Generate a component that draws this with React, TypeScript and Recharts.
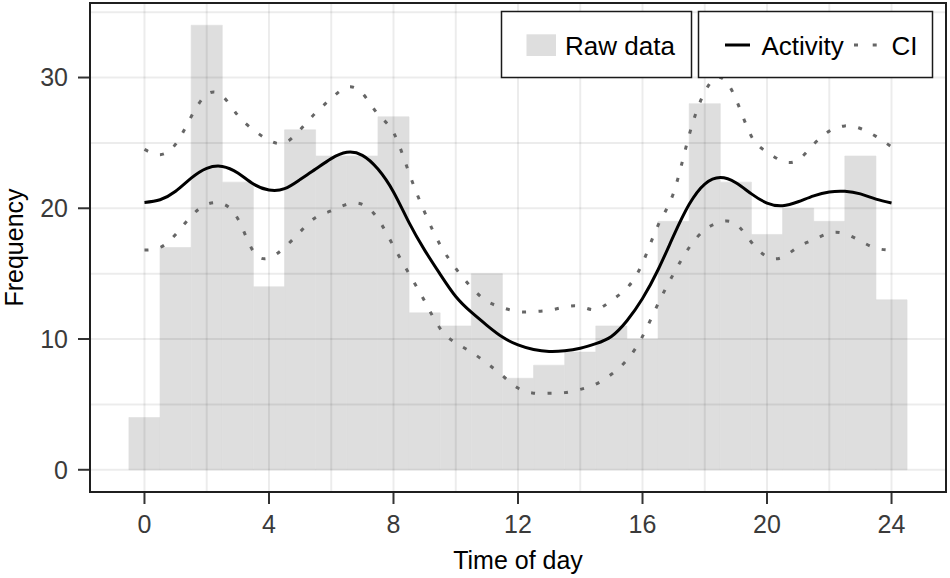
import React from "react";
import {
  ComposedChart,
  Bar,
  Line,
  XAxis,
  YAxis,
  ReferenceLine,
  ReferenceArea,
  Label,
} from "recharts";

// histogram of raw observations, one bin per hour
const HOURS = [0, 1, 2, 3, 4, 5, 6, 7, 8, 9, 10, 11, 12, 13, 14, 15, 16, 17, 18, 19, 20, 21, 22, 23, 24];
const COUNTS = [4, 17, 34, 22, 14, 26, 24, 24, 27, 12, 11, 15, 7, 8, 9, 11, 10, 19, 28, 22, 18, 20, 19, 24, 13];

// fitted activity curve and its confidence band
const CURVE_HOURS = [
  0, 0.5, 1, 1.5, 2, 2.5, 3, 3.5, 4, 4.5, 5, 5.5, 6, 6.5, 7, 7.5, 8, 8.5, 9, 9.5, 10, 10.5, 11, 11.5,
  12, 12.5, 13, 13.5, 14, 14.5, 15, 15.5, 16, 16.5, 17, 17.5, 18, 18.5, 19, 19.5, 20, 20.5, 21, 21.5,
  22, 22.5, 23, 23.5, 24,
];
const ACTIVITY = [
  20.44, 20.65, 21.3, 22.3, 23.05, 23.2, 22.7, 21.85, 21.4, 21.5, 22.2, 23.0, 23.8, 24.28, 24.05, 23.0,
  21.25, 18.9, 16.8, 14.95, 13.25, 12.05, 11.05, 10.15, 9.55, 9.2, 9.05, 9.1, 9.3, 9.65, 10.2, 11.4, 13.1,
  15.3, 17.9, 20.3, 21.85, 22.35, 21.95, 21.1, 20.4, 20.2, 20.5, 20.95, 21.25, 21.3, 21.1, 20.7, 20.4,
];
const CI_UPPER = [
  24.5, 24.1, 24.9, 27.0, 28.7, 28.6, 27.1, 26.0, 25.2, 25.0, 26.0, 27.3, 28.4, 29.25, 28.8, 27.2,
  25.8, 22.7, 19.7, 17.2, 15.4, 13.95, 12.9, 12.4, 12.1, 12.1, 12.2, 12.45, 12.5, 12.25, 12.95, 13.9,
  15.8, 18.7, 21.2, 25.6, 28.9, 30.0, 28.36, 25.5, 24.3, 23.6, 23.7, 24.9, 25.9, 26.3, 26.1, 25.5, 24.7,
];
const CI_LOWER = [
  16.8, 17.0, 18.0, 19.4, 20.3, 20.35, 19.2, 16.7, 16.2, 17.0, 18.2, 19.3, 19.8, 20.3, 20.3, 19.2,
  17.1, 15.0, 12.9, 10.8, 9.7, 9.0, 8.15, 7.2, 6.25, 5.86, 5.85, 5.9, 6.15, 6.55, 7.3, 8.4, 10.2, 12.7,
  15.0, 17.0, 18.35, 18.95, 18.8, 17.4, 16.3, 16.25, 17.05, 17.6, 18.1, 18.05, 17.5, 16.95, 16.8,
];

const X_TICKS = [0, 4, 8, 12, 16, 20, 24];
const Y_TICKS = [0, 10, 20, 30];
const X_GRID = [0, 2, 4, 6, 8, 10, 12, 14, 16, 18, 20, 22, 24];
const Y_GRID = [0, 5, 10, 15, 20, 25, 30, 35];

const X_DOMAIN: [number, number] = [-1.75, 25.75];
const Y_DOMAIN: [number, number] = [-1.7, 35.7];

const CHART_W = 950;
const CHART_H = 578;
const MARGIN = { top: 3, right: 4, bottom: 0, left: 0 };
const Y_AXIS_W = 90;
const X_AXIS_H = 86;
const PLOT_W = CHART_W - MARGIN.left - MARGIN.right - Y_AXIS_W;
// one hour wide bins, a hair under the band so recharts keeps the size
const BAR_PX = PLOT_W / (X_DOMAIN[1] - X_DOMAIN[0]) - 0.02;

const FONT = '"Liberation Sans", Arial, Helvetica, sans-serif';
const BAR_FILL = "#dedede";
const CI_COLOR = "#666666";
const GRID = { stroke: "#000", strokeOpacity: 0.075, strokeWidth: 2 };
const TICK_TEXT = { fill: "#3a3a3a", fontSize: 25 };

const histRows = HOURS.map((hour, i) => ({ hour, count: COUNTS[i] }));
const curveRows = CURVE_HOURS.map((hour, i) => ({
  hour,
  activity: ACTIVITY[i],
  upper: CI_UPPER[i],
  lower: CI_LOWER[i],
}));

function YTitle(props: any) {
  const vb = props.viewBox;
  const x = vb.x + 23;
  const y = vb.y + vb.height / 2;
  return (
    <text
      x={x}
      y={y}
      transform={`rotate(-90 ${x} ${y})`}
      textAnchor="middle"
      fontSize={25}
      fill="#000"
      fontFamily={FONT}
    >
      Frequency
    </text>
  );
}

function XTitle(props: any) {
  const vb = props.viewBox;
  return (
    <text
      x={vb.x + vb.width / 2}
      y={vb.y + 77}
      textAnchor="middle"
      fontSize={25}
      fill="#000"
      fontFamily={FONT}
    >
      Time of day
    </text>
  );
}

function LegendBoxes() {
  return (
    <svg
      width={CHART_W}
      height={90}
      style={{ position: "absolute", left: 0, top: 0, pointerEvents: "none" }}
    >
      <g fontFamily={FONT} fontSize={26} fill="#000">
        <rect x={501.5} y={11.5} width={190} height={66} fill="#fff" stroke="#1a1a1a" strokeWidth={1.5} />
        <rect x={526.5} y={34.3} width={29.5} height={21.7} fill={BAR_FILL} />
        <text x={565} y={55}>Raw data</text>

        <rect x={698.5} y={11.5} width={234} height={66} fill="#fff" stroke="#1a1a1a" strokeWidth={1.5} />
        <line x1={725} x2={750} y1={45} y2={45} stroke="#000" strokeWidth={3} />
        <text x={761.5} y={55}>Activity</text>
        <line
          x1={854}
          x2={877}
          y1={45}
          y2={45}
          stroke={CI_COLOR}
          strokeWidth={3}
          strokeDasharray="4 14.7"
        />
        <text x={891.5} y={55}>CI</text>
      </g>
    </svg>
  );
}

export default function App() {
  return (
    <div
      style={{
        position: "absolute",
        left: 0,
        top: 0,
        width: CHART_W,
        height: CHART_H,
        background: "#fff",
        fontFamily: FONT,
      }}
    >
      <ComposedChart width={CHART_W} height={CHART_H} data={histRows} margin={MARGIN}>
        <XAxis
          xAxisId="bins"
          type="number"
          dataKey="hour"
          domain={X_DOMAIN}
          allowDataOverflow
          hide
        />
        <XAxis
          type="number"
          dataKey="hour"
          domain={X_DOMAIN}
          allowDataOverflow
          ticks={X_TICKS}
          interval={0}
          height={X_AXIS_H}
          axisLine={false}
          tickSize={12}
          tickMargin={11}
          tickLine={{ stroke: "#333", strokeWidth: 2 }}
          tick={TICK_TEXT}
        >
          <Label content={XTitle} />
        </XAxis>
        <YAxis
          type="number"
          domain={Y_DOMAIN}
          allowDataOverflow
          ticks={Y_TICKS}
          interval={0}
          width={Y_AXIS_W}
          axisLine={false}
          tickSize={12}
          tickMargin={10}
          tickLine={{ stroke: "#333", strokeWidth: 2 }}
          tick={TICK_TEXT}
        >
          <Label content={YTitle} />
        </YAxis>

        <Bar
          xAxisId="bins"
          dataKey="count"
          fill={BAR_FILL}
          stroke={BAR_FILL}
          strokeWidth={0.6}
          barSize={BAR_PX}
          isAnimationActive={false}
        />

        {/* panel grid sits over the bins, like the original */}
        {X_GRID.map((v) => (
          <ReferenceLine key={`gx-${v}`} x={v} {...GRID} zIndex={350} />
        ))}
        {Y_GRID.map((v) => (
          <ReferenceLine key={`gy-${v}`} y={v} {...GRID} zIndex={350} />
        ))}

        <Line
          data={curveRows}
          dataKey="upper"
          type="natural"
          stroke={CI_COLOR}
          strokeWidth={3}
          strokeDasharray="4 12.5"
          dot={false}
          activeDot={false}
          isAnimationActive={false}
        />
        <Line
          data={curveRows}
          dataKey="lower"
          type="natural"
          stroke={CI_COLOR}
          strokeWidth={3}
          strokeDasharray="4 12.5"
          dot={false}
          activeDot={false}
          isAnimationActive={false}
        />
        <Line
          data={curveRows}
          dataKey="activity"
          type="natural"
          stroke="#000"
          strokeWidth={3}
          dot={false}
          activeDot={false}
          isAnimationActive={false}
        />

        <ReferenceArea
          x1={X_DOMAIN[0]}
          x2={X_DOMAIN[1]}
          y1={Y_DOMAIN[0]}
          y2={Y_DOMAIN[1]}
          fill="none"
          stroke="#1f1f1f"
          strokeWidth={2}
          ifOverflow="visible"
          zIndex={600}
        />
      </ComposedChart>
      <LegendBoxes />
    </div>
  );
}
